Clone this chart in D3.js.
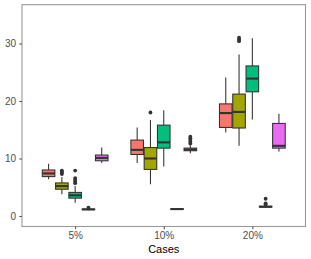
<!DOCTYPE html>
<html>
<head>
<meta charset="utf-8">
<script src="https://cdn.jsdelivr.net/npm/d3@7"></script>
<style>
  body { margin: 0; background: #fff; }
  svg { display: block; font-family: "Liberation Sans", Arial, sans-serif; }
</style>
</head>
<body>
<div id="chart"></div>
<script>
// categories on x, one box per series in each
const cases = ['5%', '10%', '20%'];
const seriesNames = ['A', 'B', 'C', 'D', 'E'];
const seriesColors = ['#F8766D', '#A3A500', '#00BF7D', '#00B0F6', '#E76BF3'];
const yTicks = [0, 10, 20, 30];

// [lower whisker, q1, median, q3, upper whisker] per case
const statsA = [[6.4, 6.85, 7.4, 8.0, 9.1], [9.2, 10.7, 11.5, 13.2, 15.4], [14.5, 15.4, 17.9, 19.5, 24.1]];
const statsB = [[3.8, 4.65, 5.2, 5.75, 6.8], [5.5, 8.1, 10.0, 11.9, 16.7], [12.2, 15.3, 18.1, 21.2, 28.1]];
const statsC = [[2.3, 3.1, 3.6, 4.1, 5.2], [8.6, 11.8, 12.8, 15.8, 18.4], [16.8, 21.6, 23.9, 26.1, 30.9]];
const statsD = [[1.0, 1.1, 1.15, 1.2, 1.3], [1.1, 1.15, 1.2, 1.25, 1.35], [1.45, 1.55, 1.6, 1.7, 1.8]];
const statsE = [[9.2, 9.6, 10.1, 10.6, 11.9], [10.9, 11.35, 11.55, 11.8, 12.3], [11.2, 11.8, 12.2, 16.1, 17.8]];

// outliers per case
const outA = [[], [], []];
const outB = [[7.3, 7.5, 7.7, 7.9], [18.0], [30.4, 30.7, 31.0]];
const outC = [[5.7, 6.0, 6.3, 6.6, 7.9], [], []];
const outD = [[1.45], [], [2.0, 2.2, 3.0]];
const outE = [[], [12.6, 12.9, 13.2, 13.5, 13.8], []];

const allStats = [statsA, statsB, statsC, statsD, statsE];
const allOut = [outA, outB, outC, outD, outE];

const width = 311, height = 259;
const panel = {left: 22, right: 305.5, top: 4.7, bottom: 226.5};

const svg = d3.select('#chart')
  .append('svg')
  .attr('width', width)
  .attr('height', height);

const x = d3.scaleLinear()
  .domain([-0.6, cases.length - 1 + 0.6])
  .range([panel.left, panel.right]);

const y = d3.scaleLinear()
  .domain([-1.83, 36.75])
  .range([panel.bottom, panel.top]);

const dodge = 0.15;
const halfBox = 0.071;

// flatten into box records
const boxes = [];
allStats.forEach(function (stats, s) {
  stats.forEach(function (st, c) {
    boxes.push({
      s: s, c: c,
      cx: c + (s - 2) * dodge,
      lo: st[0], q1: st[1], med: st[2], q3: st[3], hi: st[4],
      out: allOut[s][c]
    });
  });
});

const g = svg.append('g');
const boxColor = '#333333';

const box = g.selectAll('.box')
  .data(boxes)
  .enter()
  .append('g')
  .attr('class', 'box');

// whiskers
box.append('line')
  .attr('x1', d => x(d.cx)).attr('x2', d => x(d.cx))
  .attr('y1', d => y(d.hi)).attr('y2', d => y(d.q3))
  .attr('stroke', boxColor).attr('stroke-width', 1.07);
box.append('line')
  .attr('x1', d => x(d.cx)).attr('x2', d => x(d.cx))
  .attr('y1', d => y(d.q1)).attr('y2', d => y(d.lo))
  .attr('stroke', boxColor).attr('stroke-width', 1.07);

box.append('rect')
  .attr('x', d => x(d.cx - halfBox))
  .attr('width', d => x(d.cx + halfBox) - x(d.cx - halfBox))
  .attr('y', d => y(d.q3))
  .attr('height', d => y(d.q1) - y(d.q3))
  .attr('fill', d => seriesColors[d.s])
  .attr('stroke', boxColor)
  .attr('stroke-width', 1.07);

box.append('line')
  .attr('x1', d => x(d.cx - halfBox)).attr('x2', d => x(d.cx + halfBox))
  .attr('y1', d => y(d.med)).attr('y2', d => y(d.med))
  .attr('stroke', boxColor).attr('stroke-width', 2.1);

box.selectAll('circle')
  .data(d => d.out.map(v => ({cx: d.cx, v: v})))
  .enter()
  .append('circle')
  .attr('cx', d => x(d.cx))
  .attr('cy', d => y(d.v))
  .attr('r', 1.9)
  .attr('fill', boxColor);

// panel border
svg.append('rect')
  .attr('x', panel.left)
  .attr('y', panel.top)
  .attr('width', panel.right - panel.left)
  .attr('height', panel.bottom - panel.top)
  .attr('fill', 'none')
  .attr('stroke', '#999999')
  .attr('stroke-width', 1.1);

// y axis
const yAxis = svg.append('g')
  .attr('transform', `translate(${panel.left},0)`)
  .call(d3.axisLeft(y).tickValues(yTicks).tickSize(2.7).tickPadding(3.3));
yAxis.select('.domain').remove();
yAxis.selectAll('line').attr('stroke', '#555555').attr('stroke-width', 1.07);
yAxis.selectAll('text').attr('fill', '#4D4D4D').style('font-size', '10px');

// x axis
const xAxis = svg.append('g')
  .attr('transform', `translate(0,${panel.bottom})`)
  .call(d3.axisBottom(x).tickValues(d3.range(cases.length)).tickFormat(i => cases[i]).tickSize(2.7).tickPadding(3));
xAxis.select('.domain').remove();
xAxis.selectAll('line').attr('stroke', '#555555').attr('stroke-width', 1.07);
xAxis.selectAll('text').attr('fill', '#4D4D4D').style('font-size', '10px');

svg.append('text')
  .attr('x', (panel.left + panel.right) / 2)
  .attr('y', 252.5)
  .attr('text-anchor', 'middle')
  .attr('fill', '#000')
  .style('font-size', '11px')
  .text('Cases');
</script>
</body>
</html>
